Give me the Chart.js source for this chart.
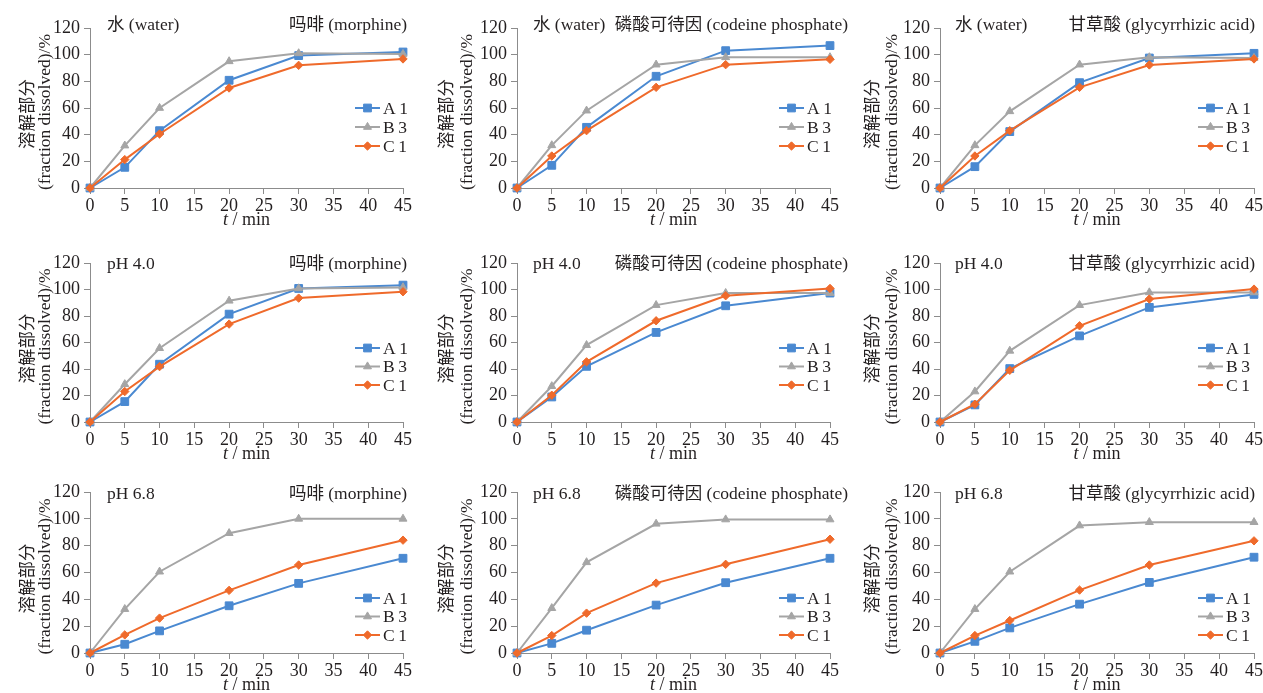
<!DOCTYPE html>
<html>
<head>
<meta charset="utf-8">
<script src="https://cdn.jsdelivr.net/npm/chart.js@4.4.1/dist/chart.umd.min.js"></script>
<style>
  body { margin: 0; background: #fff; width: 1263px; height: 693px; overflow: hidden; position: relative; }
  canvas { position: absolute; }
</style>
</head>
<body>
<script>
// time points (min) and axis ticks
const timePoints = [0, 5, 10, 20, 30, 45];
const seriesLabels = ['A\u20091', 'B\u20093', 'C\u20091'];
const mediumLabels = ['水 (water)', 'pH 4.0', 'pH 6.8'];
const drugLabels = ['吗啡 (morphine)', '磷酸可待因 (codeine phosphate)', '甘草酸 (glycyrrhizic acid)'];

// fraction dissolved (%) – water
const waterMorphineA1 = [0, 15.5, 43, 80.8, 99.3, 102];
const waterMorphineB3 = [0, 31.8, 60, 95, 101, 100.5];
const waterMorphineC1 = [0, 21.3, 40.5, 75, 92, 96.8];
const waterCodeineA1 = [0, 17, 45.5, 83.8, 103, 106.8];
const waterCodeineB3 = [0, 32, 58, 92.5, 98, 98];
const waterCodeineC1 = [0, 24, 43, 75.5, 92.5, 96.5];
const waterGlycyrrhizicA1 = [0, 16, 42.3, 79, 97.5, 101];
const waterGlycyrrhizicB3 = [0, 32, 57.5, 92.5, 98, 97.5];
const waterGlycyrrhizicC1 = [0, 24, 43, 75.5, 92.3, 96.8];

// pH 4.0
const ph40MorphineA1 = [0, 15.4, 43.6, 81.4, 100.8, 103.3];
const ph40MorphineB3 = [0, 28.5, 55.7, 91.5, 100.8, 101.6];
const ph40MorphineC1 = [0, 23, 41.8, 73.9, 93.5, 98.3];
const ph40CodeineA1 = [0, 18.9, 42, 67.6, 87.7, 97.3];
const ph40CodeineB3 = [0, 27, 58, 88.2, 97.3, 97.3];
const ph40CodeineC1 = [0, 20.2, 45.4, 76.4, 95.3, 100.8];
const ph40GlycyrrhizicA1 = [0, 12.9, 40.3, 65, 86.5, 96.3];
const ph40GlycyrrhizicB3 = [0, 23, 53.7, 88.2, 97.8, 97.8];
const ph40GlycyrrhizicC1 = [0, 13.4, 39, 72.6, 92.8, 100.3];

// pH 6.8
const ph68MorphineA1 = [0, 6.5, 16.5, 35.2, 51.9, 70.6];
const ph68MorphineB3 = [0, 32.7, 60.6, 89.3, 100, 100];
const ph68MorphineC1 = [0, 13.5, 26, 46.7, 65.6, 84.1];
const ph68CodeineA1 = [0, 7.2, 17, 35.7, 52.4, 70.6];
const ph68CodeineB3 = [0, 33.4, 67.6, 96.3, 99.5, 99.5];
const ph68CodeineC1 = [0, 13, 29.7, 52.1, 66.1, 84.8];
const ph68GlycyrrhizicA1 = [0, 8.7, 18.7, 36.4, 52.6, 71.4];
const ph68GlycyrrhizicB3 = [0, 32.7, 60.6, 95, 97.5, 97.5];
const ph68GlycyrrhizicC1 = [0, 13, 24.2, 46.9, 65.6, 83.6];

const panelData = [
    [[waterMorphineA1, waterMorphineB3, waterMorphineC1],
     [waterCodeineA1, waterCodeineB3, waterCodeineC1],
     [waterGlycyrrhizicA1, waterGlycyrrhizicB3, waterGlycyrrhizicC1]],
    [[ph40MorphineA1, ph40MorphineB3, ph40MorphineC1],
     [ph40CodeineA1, ph40CodeineB3, ph40CodeineC1],
     [ph40GlycyrrhizicA1, ph40GlycyrrhizicB3, ph40GlycyrrhizicC1]],
    [[ph68MorphineA1, ph68MorphineB3, ph68MorphineC1],
     [ph68CodeineA1, ph68CodeineB3, ph68CodeineC1],
     [ph68GlycyrrhizicA1, ph68GlycyrrhizicB3, ph68GlycyrrhizicC1]]
];

const colors = ['#4a89d1', '#a5a5a5', '#ef6a2b'];
const pointStyles = ['rect', 'triangle', 'rectRot'];
const pointSizes = [5.5, 4.6, 4.2];
const TEXT = '#231f20';
const AXIS = '#8c8c8c';
const FONT = '"Liberation Serif", "Noto Sans CJK SC", serif';

// layout of the plot areas
const plotLefts = [90, 517, 940];
const plotRights = [403, 830, 1254];
const plotTops = [28, 263, 492];
const plotBottoms = [188, 422, 653];
const rightPads = [19, 19, 9];
const yTitleX = [[-62, -45], [-70, -50], [-67, -48]];
const leftLabelDx = [17, 16, 15];
const rightLabelDx = [4, 18, 1];
const labelDy = [-3, 1, 2];
const legendDx = [265, 262, 258];
const legendDy = [80, 85, 106];
const legendStep = [19, 18.5, 18.5];

const panelText = {
    id: 'panelText',
    afterDraw(chart, args, o) {
        const ctx = chart.ctx;
        const a = chart.chartArea;
        ctx.save();
        ctx.fillStyle = TEXT;
        ctx.textBaseline = 'middle';

        // y axis title, two lines rotated
        ctx.font = '17.5px ' + FONT;
        ctx.textAlign = 'center';
        const cy = (a.top + a.bottom) / 2;
        [['溶解部分', 0, 6], ['(fraction dissolved)/%', 1, 4]].forEach(([txt, i, dy]) => {
            ctx.save();
            ctx.translate(a.left + yTitleX[o.col][i], cy + dy);
            ctx.rotate(-Math.PI / 2);
            ctx.fillText(txt, 0, 0);
            ctx.restore();
        });

        // x axis title with italic t
        ctx.textAlign = 'left';
        const italic = 'italic 18px ' + FONT;
        const normal = '18px ' + FONT;
        ctx.font = italic;
        const wt = ctx.measureText('t').width;
        ctx.font = normal;
        const wr = ctx.measureText(' / min').width;
        const x0 = (a.left + a.right) / 2 - (wt + wr) / 2;
        const ty = a.bottom + 32;
        ctx.font = italic;
        ctx.fillText('t', x0, ty);
        ctx.font = normal;
        ctx.fillText(' / min', x0 + wt, ty);

        // panel labels
        ctx.font = '17.5px ' + FONT;
        const ly = a.top + labelDy[o.row];
        ctx.textAlign = 'left';
        ctx.fillText(mediumLabels[o.row], a.left + leftLabelDx[o.col], ly);
        ctx.textAlign = 'right';
        ctx.fillText(drugLabels[o.col], a.right + rightLabelDx[o.col], ly);

        // legend
        ctx.textAlign = 'left';
        ctx.font = '17.5px ' + FONT;
        const lx = a.left + legendDx[o.col];
        seriesLabels.forEach((lab, i) => {
            const y = a.top + legendDy[o.row] + i * legendStep[o.row];
            ctx.strokeStyle = colors[i];
            ctx.lineWidth = 2;
            ctx.beginPath();
            ctx.moveTo(lx, y);
            ctx.lineTo(lx + 25, y);
            ctx.stroke();
            ctx.fillStyle = colors[i];
            ctx.lineWidth = 1;
            Chart.helpers.drawPoint(ctx, {pointStyle: pointStyles[i], radius: pointSizes[i], rotation: 0, borderWidth: 1}, lx + 12.5, y);
            ctx.fillStyle = TEXT;
            ctx.fillText(lab, lx + 28, y + 1);
        });
        ctx.restore();
    }
};

function makePanel(row, col) {
    const left = plotLefts[col] - 90;
    const top = plotTops[row] - 28;
    const width = plotRights[col] + rightPads[col] - left;
    const bottom = Math.min(plotBottoms[row] + 42, 693);
    const height = bottom - top;
    const xAxisH = height - 28 - (plotBottoms[row] - plotTops[row]);

    const canvas = document.createElement('canvas');
    canvas.width = width;
    canvas.height = height;
    canvas.style.left = left + 'px';
    canvas.style.top = top + 'px';
    document.body.appendChild(canvas);

    const datasets = panelData[row][col].map((vals, i) => ({
        label: seriesLabels[i],
        data: timePoints.map((t, k) => ({x: t, y: vals[k]})),
        borderColor: colors[i],
        backgroundColor: colors[i],
        borderWidth: 2,
        pointStyle: pointStyles[i],
        pointRadius: pointSizes[i],
        pointBorderWidth: 1,
        tension: 0,
        clip: false,
        order: 3 - i
    }));

    const axisCommon = {
        type: 'linear',
        grid: {display: true, drawOnChartArea: false, drawTicks: true, tickLength: 6, color: AXIS, lineWidth: 1},
        border: {display: true, color: AXIS, width: 1}
    };

    new Chart(canvas.getContext('2d'), {
        type: 'line',
        data: {datasets},
        options: {
            responsive: false,
            animation: false,
            devicePixelRatio: 1,
            layout: {padding: {left: 0, top: 28, right: rightPads[col], bottom: 0}},
            plugins: {legend: {display: false}, tooltip: {enabled: false}, panelText: {row, col}},
            scales: {
                x: {
                    ...axisCommon,
                    min: 0, max: 45,
                    ticks: {stepSize: 5, color: TEXT, font: {family: FONT, size: 18}, padding: 1, maxRotation: 0, autoSkip: false},
                    afterFit(s) { s.height = xAxisH; s.paddingLeft = 0; s.paddingRight = 0; }
                },
                y: {
                    ...axisCommon,
                    min: 0, max: 120,
                    ticks: {stepSize: 20, color: TEXT, font: {family: FONT, size: 18}, padding: 4},
                    afterFit(s) { s.width = 90; s.paddingTop = 0; s.paddingBottom = 0; }
                }
            }
        },
        plugins: [panelText]
    });
}

for (let r = 0; r < 3; r++) {
    for (let c = 0; c < 3; c++) makePanel(r, c);
}
</script>
</body>
</html>
